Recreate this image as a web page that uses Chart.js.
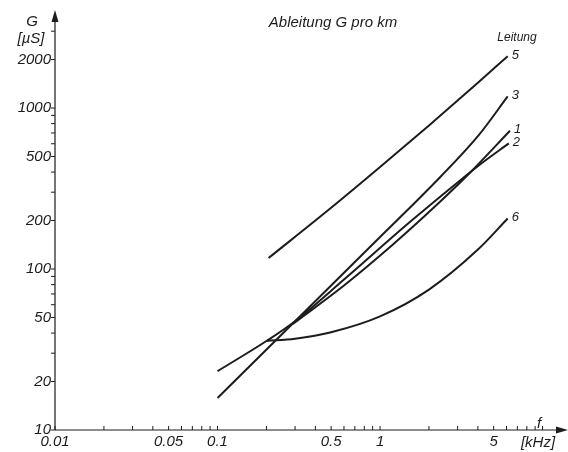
<!DOCTYPE html>
<html>
<head>
<meta charset="utf-8">
<script src="https://cdn.jsdelivr.net/npm/chart.js@4"></script>
<style>
  html, body { margin: 0; padding: 0; background: #fff; }
  #wrap { width: 568px; height: 452px; position: relative; }
</style>
</head>
<body>
<div id="wrap"><canvas id="chart"></canvas></div>
<script>
// Leitungen (line numbers), frequency in kHz, G in µS per km
const lineNames = ['5', '3', '1', '2', '6'];

const f5 = [0.206, 0.5, 1, 2, 4, 6.1];
const g5 = [117, 240, 430, 780, 1436, 2100];

const f3 = [0.1, 0.3, 1, 2, 4, 6.1];
const g3 = [15.8, 47.4, 158, 316, 668, 1180];

const f1 = [0.29, 0.6, 1.2, 2.2, 3.5, 6.3];
const g1 = [45.5, 79, 142, 247, 388, 723];

const f2 = [0.1, 0.2, 0.3, 0.6, 1.5, 3, 4.2, 6.2];
const g2 = [23.2, 35.7, 47.4, 86, 193, 345, 452, 603];

const f6 = [0.2, 0.3, 0.5, 1, 2, 4, 6.1];
const g6 = [35.7, 36.9, 40.5, 50.8, 74.5, 132, 206];

const xTickLabels = ['0.01', '0.05', '0.1', '0.5', '1', '5'];
const yTickLabels = ['10', '20', '50', '100', '200', '500', '1000', '2000'];

const seriesF = [f5, f3, f1, f2, f6];
const seriesG = [g5, g3, g1, g2, g6];

const INK = '#1c1c1c';
const FONT = '"Liberation Sans", Arial, sans-serif';

function logTicks(min, max) {
  const out = [];
  for (let e = Math.floor(Math.log10(min)); e <= Math.ceil(Math.log10(max)); e++) {
    for (let m = 1; m <= 9; m++) {
      const v = m * Math.pow(10, e);
      if (v >= min * 0.999 && v <= max * 1.001) out.push(+v.toPrecision(3));
    }
  }
  return out;
}

const decor = {
  id: 'decor',
  afterDraw(chart) {
    const { ctx, chartArea: a, scales } = chart;
    const xs = scales.x, ys = scales.y;
    const x0 = a.left, y0 = a.bottom;
    ctx.save();
    ctx.strokeStyle = INK;
    ctx.fillStyle = INK;
    ctx.lineWidth = 1.2;
    // axes
    ctx.beginPath();
    ctx.moveTo(x0, y0); ctx.lineTo(562, y0);
    ctx.moveTo(x0, y0); ctx.lineTo(x0, 16);
    ctx.stroke();
    // arrow heads
    ctx.beginPath();
    ctx.moveTo(568, y0); ctx.lineTo(556, y0 - 3.5); ctx.lineTo(556, y0 + 3.5); ctx.closePath();
    ctx.fill();
    ctx.beginPath();
    ctx.moveTo(x0, 10); ctx.lineTo(x0 - 3.5, 22); ctx.lineTo(x0 + 3.5, 22); ctx.closePath();
    ctx.fill();
    // tick marks
    ctx.lineWidth = 1;
    ctx.beginPath();
    xs.ticks.forEach(t => {
      const px = xs.getPixelForValue(t.value);
      ctx.moveTo(px, y0); ctx.lineTo(px, y0 - 4);
    });
    ys.ticks.forEach(t => {
      const py = ys.getPixelForValue(t.value);
      if (py < 20) return;
      ctx.moveTo(x0, py); ctx.lineTo(x0 - 4, py);
    });
    ctx.stroke();
    // texts
    ctx.font = 'italic 15px ' + FONT;
    ctx.textAlign = 'center';
    ctx.textBaseline = 'middle';
    ctx.fillText('Ableitung G pro km', 333, 23);
    ctx.fillText('G', 32, 22);
    ctx.fillText('[\u00b5S]', 31, 39);
    ctx.fillText('f', 539, 424);
    ctx.fillText('[kHz]', 538, 443);
    ctx.font = 'italic 12px ' + FONT;
    ctx.fillText('Leitung', 517, 38);
    // line numbers at the end of each curve
    ctx.font = 'italic 13px ' + FONT;
    ctx.textAlign = 'left';
    chart.data.datasets.forEach((ds, i) => {
      const pts = chart.getDatasetMeta(i).data;
      const p = pts[pts.length - 1];
      ctx.fillText(ds.label, p.x + 4, p.y - 1);
    });
    ctx.restore();
  }
};

const datasets = lineNames.map((name, i) => ({
  label: name,
  data: seriesF[i].map((f, j) => ({ x: f, y: seriesG[i][j] })),
  borderColor: INK,
  borderWidth: 2,
  pointRadius: 0,
  cubicInterpolationMode: 'monotone',
  fill: false,
}));

new Chart(document.getElementById('chart'), {
  type: 'line',
  data: { datasets },
  options: {
    responsive: true,
    maintainAspectRatio: false,
    animation: false,
    layout: { padding: { top: 18, right: 8, left: 0, bottom: 0 } },
    plugins: { legend: { display: false }, tooltip: { enabled: false } },
    scales: {
      x: {
        type: 'logarithmic',
        min: 0.01,
        max: 12.8,
        grid: { display: false, drawTicks: false },
        border: { display: false },
        afterBuildTicks: (s) => { s.ticks = logTicks(0.01, 10).map(v => ({ value: v })); },
        afterFit: (s) => { s.height = 22; },
        ticks: {
          autoSkip: false,
          maxRotation: 0,
          padding: 3,
          color: INK,
          font: { family: FONT, size: 15, style: 'italic' },
          callback: (v) => {
            const l = String(+(+v).toPrecision(3));
            return xTickLabels.includes(l) ? l : '';
          },
        },
      },
      y: {
        type: 'logarithmic',
        min: 10,
        max: 3624,
        grid: { display: false, drawTicks: false },
        border: { display: false },
        afterBuildTicks: (s) => { s.ticks = logTicks(10, 3000).map(v => ({ value: v })); },
        afterFit: (s) => { s.width = 55; },
        ticks: {
          autoSkip: false,
          padding: 4,
          color: INK,
          font: { family: FONT, size: 15, style: 'italic' },
          callback: (v) => {
            const l = String(+(+v).toPrecision(4));
            return yTickLabels.includes(l) ? l : '';
          },
        },
      },
    },
  },
  plugins: [decor],
});
</script>
</body>
</html>
